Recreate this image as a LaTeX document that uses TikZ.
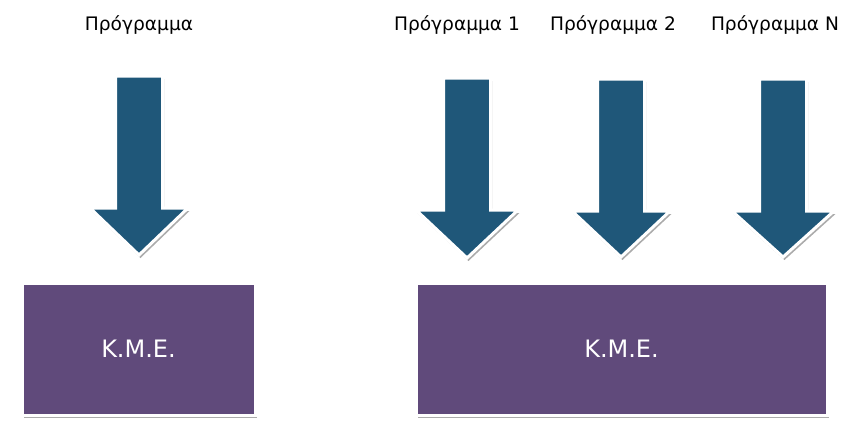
\documentclass[tikz,border=0pt]{standalone}
\usepackage{fontspec}
\setmainfont{DejaVu Sans}
\definecolor{arrowblue}{RGB}{31, 87, 121}
\definecolor{cpupurple}{RGB}{96, 74, 123}
\usetikzlibrary{shadows, positioning}
\tikzset{
  prglabel/.style={font=\fontsize{18.6}{22}\selectfont, text=black, inner sep=0pt},
  cpubox/.style={fill=cpupurple, draw=white, line width=3pt, inner sep=0pt,
    minimum height=132pt, text=white, font=\fontsize{24}{28}\selectfont,
    drop shadow={shadow xshift=1.5pt, shadow yshift=-3pt, opacity=.55, fill=black!60}},
  prgarrow/.style={fill=arrowblue, draw=white, line width=3pt, line join=miter,
    drop shadow={shadow xshift=1.5pt, shadow yshift=-3pt, opacity=.55, fill=black!60}}
}
\begin{document}
\begin{tikzpicture}[x=1pt, y=-1pt]
  \useasboundingbox (0,0) rectangle (848,442);

  % One program
  \node[prglabel] (prg) at (139, 25) {Πρόγραμμα};
  \coordinate (top) at (139, 76);
  \draw[prgarrow, shift={(top)}] (-23.5,0) -- (23.5,0) -- (23.5,132) -- (49,132)
    -- (0,179) -- (-49,132) -- (-23.5,132) -- cycle;
  \node[cpubox, minimum width=233pt] (cpu) at (138.5, 349) {K.M.E.};

  % Many programs
  \node[prglabel] (prg1) at (457, 25) {Πρόγραμμα 1};
  \node[prglabel] (prg2) at (613, 25) {Πρόγραμμα 2};
  \node[prglabel] (prgN) at (775, 25) {Πρόγραμμα N};
  \coordinate (top1) at (467, 78);
  \coordinate (top2) at (621, 79);
  \coordinate (topN) at (783, 79);
  \draw[prgarrow, shift={(top1)}] (-23.5,0) -- (23.5,0) -- (23.5,132) -- (51,132)
    -- (0,180) -- (-51,132) -- (-23.5,132) -- cycle;
  \draw[prgarrow, shift={(top2)}] (-23.5,0) -- (23.5,0) -- (23.5,132) -- (49,132)
    -- (0,178) -- (-49,132) -- (-23.5,132) -- cycle;
  \draw[prgarrow, shift={(topN)}] (-23.5,0) -- (23.5,0) -- (23.5,132) -- (51,132)
    -- (0,178) -- (-51,132) -- (-23.5,132) -- cycle;
  \node[cpubox, minimum width=411pt] (cpu2) at (621.5, 349) {K.M.E.};
\end{tikzpicture}
\end{document}
